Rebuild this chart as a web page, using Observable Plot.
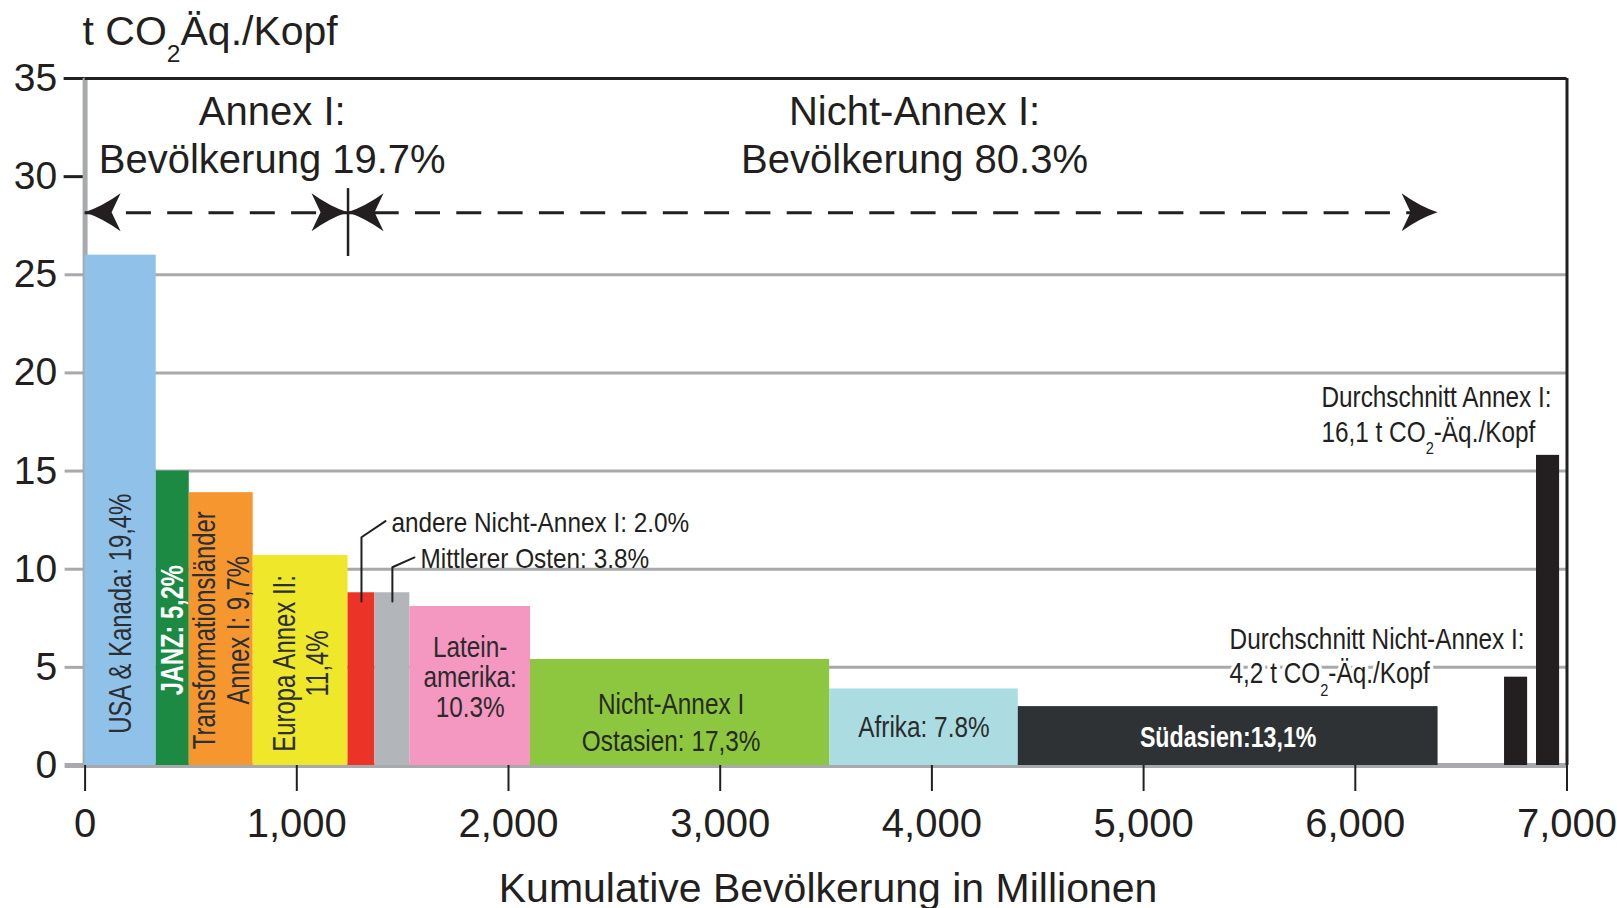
<!DOCTYPE html>
<html>
<head>
<meta charset="utf-8">
<script src="https://cdn.jsdelivr.net/npm/d3@7"></script>
<script src="https://cdn.jsdelivr.net/npm/@observablehq/plot@0.6"></script>
<style>
  html, body { margin: 0; padding: 0; background: #fff; }
  #chart svg { display: block; }
</style>
</head>
<body>
<div id="chart"></div>
<script>
// ---------------- data ----------------
const regions = ["USA & Kanada", "JANZ", "Transformationsländer Annex I", "Europa Annex II",
  "andere Nicht-Annex I", "Mittlerer Osten", "Lateinamerika", "Nicht-Annex I Ostasien", "Afrika", "Südasien"];
const population = [336, 156, 302, 448, 127, 165, 570, 1413, 891, 1983];      // Mio. (bar widths)
const perCapita  = [26.0, 15.0, 13.9, 10.7, 8.8, 8.8, 8.1, 5.4, 3.9, 3.0];     // t CO2-Äq./Kopf
const annexI     = [true, true, true, true, false, false, false, false, false, false];
const barColors  = ["#8fc1e9", "#1d8a44", "#f6962f", "#eee72a", "#ec3327", "#b2b5b9",
  "#f497c1", "#8dc63f", "#abdce2", "#2e3235"];
const barLabels  = ["USA & Kanada: 19,4%", "JANZ: 5,2%", "Transformationsländer\nAnnex I: 9,7%",
  "Europa Annex II:\n11,4%", "andere Nicht-Annex I: 2.0%", "Mittlerer Osten: 3.8%",
  "Latein-\namerika:\n10.3%", "Nicht-Annex I\nOstasien: 17,3%", "Afrika: 7.8%", "Südasien:13,1%"];

const averageNames  = ["Durchschnitt Nicht-Annex I", "Durchschnitt Annex I"];
const averageValues = [4.5, 15.8];
const averageStart  = [6705, 6856];
const averageEnd    = [6814, 6965];
const averageLabels = ["Durchschnitt Nicht-Annex I:\n4,2 t CO₂-Äq./Kopf", "Durchschnitt Annex I:\n16,1 t CO₂-Äq./Kopf"];

const groupLabels = ["Annex I:\nBevölkerung 19.7%", "Nicht-Annex I:\nBevölkerung 80.3%"];

const xTicks = [0, 1000, 2000, 3000, 4000, 5000, 6000, 7000];
const yTicks = [0, 5, 10, 15, 20, 25, 30, 35];
const yLabel = "t CO₂Äq./Kopf";
const xLabel = "Kumulative Bevölkerung in Millionen";

// ---------------- annotation anchors (data units) ----------------
const labelY      = [7.73, 6.89, 6.89, 5.2, 12.35, 10.5, 4.49, 2.3, 1.95, 1.43];
const leaderTextX = [null, null, null, null, 1447, 1584, null, null, null, null];
const leaderBendY = [null, null, null, null, 11.63, 10.1, null, null, null, null];
const groupLabelX = [884, 3918];
const groupLabelY = 32.19;
const avgLabelX   = [5406, 5840];
const avgLabelY   = [5.64, 17.93];
const arrowY      = 28.16;
const dividerY    = [25.93, 29.39];

// ---------------- derived tables ----------------
const ends = d3.cumsum(population);
const bars = regions.map((name, i) => ({
  name, x1: ends[i] - population[i], x2: ends[i], cx: ends[i] - population[i] / 2,
  value: perCapita[i], color: barColors[i], label: barLabels[i], annex: annexI[i],
  ly: labelY[i], tx: leaderTextX[i], by: leaderBendY[i]
}));
const averages = averageNames.map((name, i) => ({
  name, x1: averageStart[i], x2: averageEnd[i], value: averageValues[i],
  label: averageLabels[i], lx: avgLabelX[i], ly: avgLabelY[i]
}));
const annexEnd = d3.max(bars.filter(b => b.annex), b => b.x2);
const allEnd = d3.max(bars, b => b.x2);
const groups = groupLabels.map((label, i) => ({label, x: groupLabelX[i], y: groupLabelY}));

const leaderBars = bars.filter(b => b.tx != null);
const leaders = leaderBars.flatMap(b => [
  {id: b.name, x: b.cx, y: b.value - 0.45},
  {id: b.name, x: b.cx, y: b.by},
  {id: b.name, x: b.tx - 28, y: b.ly + 0.1}
]);

const rotDark  = [bars[0], bars[2], bars[3]];
const rotWhite = [bars[1]];
const horDark  = [bars[6], bars[8]];
const horTall  = [bars[7]];
const horWhite = [bars[9]];

const arrowsRight = [{x: annexEnd, dx: -1}, {x: allEnd, dx: 2}];
const arrowsLeft  = [{x: 0, dx: 0}, {x: annexEnd, dx: 2}];

// stealth arrowhead symbols (tip at the anchor)
const headRight = {draw(c) {
  c.moveTo(0, 0); c.quadraticCurveTo(-18, -6, -36, -19); c.lineTo(-27, 0);
  c.lineTo(-36, 19); c.quadraticCurveTo(-18, 6, 0, 0); c.closePath();
}};
const headLeft = {draw(c) {
  c.moveTo(0, 0); c.quadraticCurveTo(18, -6, 36, -19); c.lineTo(27, 0);
  c.lineTo(36, 19); c.quadraticCurveTo(18, 6, 0, 0); c.closePath();
}};

const INK = "#231f20", GRID = "#a7a9ac";

const chart = Plot.plot({
  width: 1617, height: 908,
  marginLeft: 84.6, marginRight: 50.5, marginTop: 78, marginBottom: 143,
  x: {domain: [0, 7000], label: null},
  y: {domain: [0, 35], label: null},
  color: {type: "identity"},
  style: {fontFamily: "'Liberation Sans', Arial, Helvetica, sans-serif", background: "#fff", overflow: "visible"},
  marks: [
    Plot.ruleY(yTicks.filter(v => v > 0 && v < 30), {stroke: GRID, strokeWidth: 3}),
    Plot.ruleY([0], {stroke: GRID, strokeWidth: 5}),
    Plot.axisY(yTicks.filter(v => v > 0 && v < 30), {tickSize: 20, stroke: GRID, strokeWidth: 3, fill: "none", label: null}),
    Plot.axisY([0], {tickSize: 20, stroke: GRID, strokeWidth: 5, fill: "none", label: null}),
    Plot.axisY(yTicks.filter(v => v >= 30), {tickSize: 21, stroke: INK, strokeWidth: 3, fill: "none", label: null}),
    Plot.axisY(yTicks, {tickSize: 0, tickPadding: 28, fontSize: 39, fill: INK, label: null}),
    Plot.ruleX([0], {stroke: GRID, strokeWidth: 5}),
    Plot.ruleY([35], {stroke: INK, strokeWidth: 3}),
    Plot.ruleX([7000], {stroke: INK, strokeWidth: 3}),

    Plot.rectY(bars, {x1: "x1", x2: "x2", y: "value", fill: "color"}),
    Plot.rectY(averages, {x1: "x1", x2: "x2", y: "value", fill: INK}),

    Plot.axisX(xTicks, {tickSize: 26, tickPadding: 17, fontSize: 40, tickFormat: d3.format(","),
      stroke: INK, strokeWidth: 2, fill: INK, label: null}),

    // Annex I / Nicht-Annex I population arrows
    Plot.ruleY([arrowY], {x1: 0, x2: allEnd, stroke: INK, strokeWidth: 3, strokeDasharray: "25,16.3"}),
    Plot.dot(arrowsRight, {x: "x", y: () => arrowY, dx: "dx", symbol: headRight, fill: INK, stroke: "none"}),
    Plot.dot(arrowsLeft, {x: "x", y: () => arrowY, dx: "dx", symbol: headLeft, fill: INK, stroke: "none"}),
    Plot.ruleX([annexEnd], {y1: dividerY[0], y2: dividerY[1], stroke: INK, strokeWidth: 2.5}),
    Plot.text(groups, {x: "x", y: "y", text: "label", fontSize: 40, lineHeight: 1.2, fill: INK}),

    // leader lines
    Plot.line(leaders, {x: "x", y: "y", z: "id", stroke: INK, strokeWidth: 2, curve: "linear"}),

    // labels in / near the bars
    Plot.text(rotDark, {x: "cx", y: "ly", text: "label", rotate: -90, fontSize: 31, lineHeight: 1.08, fill: "#2b2f33"}),
    Plot.text(rotWhite, {x: "cx", y: "ly", text: "label", rotate: -90, fontSize: 32, fontWeight: "bold", fill: "#fff"}),
    Plot.text(horDark, {x: "cx", y: "ly", text: "label", fontSize: 29, lineHeight: 1.03, fill: "#2b2b2b"}),
    Plot.text(horTall, {x: "cx", y: "ly", dx: -9, text: "label", fontSize: 29, lineHeight: 1.28, fill: "#262b1e"}),
    Plot.text(horWhite, {x: "cx", y: "ly", text: "label", fontSize: 29, fontWeight: "bold", fill: "#fff"}),
    Plot.text(leaderBars, {x: "tx", y: "ly", text: "label", textAnchor: "start", fontSize: 28, fill: INK}),
    Plot.text(averages, {x: "lx", y: "ly", text: "label", textAnchor: "start", fontSize: 29, lineHeight: 1.2,
      fill: INK, stroke: "#fff", strokeWidth: 8}),

    // axis titles
    Plot.text([yLabel], {frameAnchor: "top-left", dx: -2.6, dy: -34, lineAnchor: "bottom", textAnchor: "start", fontSize: 41, fill: INK}),
    Plot.text([xLabel], {frameAnchor: "bottom", dx: 2, dy: 107, lineAnchor: "top", fontSize: 41, fill: INK})
  ]
});

// condensed type (Helvetica Condensed look) for the small labels
const condense = new Map();
[[0, 0.77], [2, 0.77], [3, 0.77], [1, 0.74], [6, 0.84], [7, 0.84], [8, 0.84], [9, 0.8], [4, 0.87], [5, 0.87]]
  .forEach(([i, k]) => condense.set(barLabels[i].replace(/\n/g, ""), k));
averageLabels.forEach(l => condense.set(l.replace(/\n/g, ""), 0.84));
chart.querySelectorAll("text").forEach(t => {
  const k = condense.get(t.textContent);
  const tr = t.getAttribute("transform");
  if (k && tr) t.setAttribute("transform", tr + ` scale(${k},1)`);
});
// real subscript for CO2
const NS = "http://www.w3.org/2000/svg";
chart.querySelectorAll("text, tspan").forEach(el => {
  if (el.childNodes.length === 1 && el.firstChild.nodeType === 3 && el.textContent.includes("₂")) {
    const [a, b] = el.textContent.split("₂");
    el.textContent = a;
    const s = document.createElementNS(NS, "tspan");
    s.setAttribute("dy", "0.7em"); s.setAttribute("font-size", "60%"); s.textContent = "2";
    const r = document.createElementNS(NS, "tspan");
    r.setAttribute("dy", "-0.42em"); r.textContent = b;
    el.append(s, r);
  }
});
document.getElementById("chart").appendChild(chart);
</script>
</body>
</html>
